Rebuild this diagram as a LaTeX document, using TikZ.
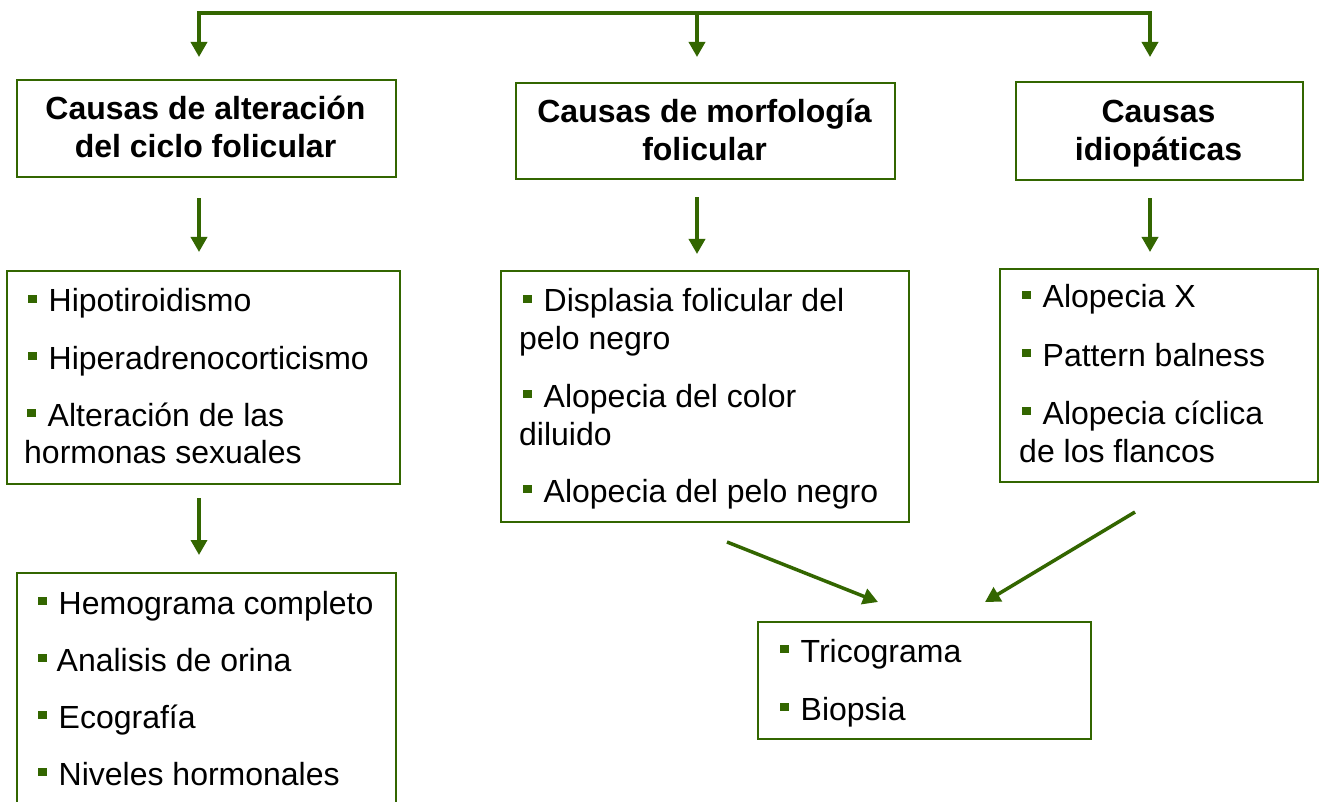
\documentclass[tikz,border=0pt]{standalone}
\usepackage{fontspec}
\setmainfont{Liberation Sans}
\usetikzlibrary{arrows.meta}
\definecolor{dgreen}{HTML}{336600}
\newcommand\fs{\fontsize{32}{38}\selectfont}
\newcommand\bsq{\textcolor{dgreen}{\rule[9pt]{8.5pt}{8.5pt}}\hspace{12pt}}
\tikzset{
  box/.style={draw=dgreen, line width=2.2pt, rectangle, inner sep=0pt, anchor=north west, fill=white},
  ttl/.style={anchor=base, inner sep=0pt, font=\fs\bfseries},
  txt/.style={anchor=base west, inner sep=0pt, font=\fs},
  conn/.style={draw=dgreen, line width=3.5pt},
  arr/.style={conn, -{Triangle[width=16pt,length=15pt]}},
}
\begin{document}
\begin{tikzpicture}[x=1pt,y=-1pt]
\clip (0,0) rectangle (1322,802);
\fill[white] (0,0) rectangle (1322,802);
% boxes
\node[box, minimum width=379pt, minimum height=97pt] (A) at (16,79) {};
\node[box, minimum width=379pt, minimum height=96pt] (B) at (515,82) {};
\node[box, minimum width=287pt, minimum height=98pt] (C) at (1015,81) {};
\node[box, minimum width=393pt, minimum height=213pt] (D) at (6,270) {};
\node[box, minimum width=408pt, minimum height=251pt] (F) at (500,270) {};
\node[box, minimum width=318pt, minimum height=213pt] (G) at (999,268) {};
\node[box, minimum width=379pt, minimum height=245pt] (E) at (16,572) {};
\node[box, minimum width=333pt, minimum height=117pt] (H) at (757,621) {};
% titles
\node[ttl] (a1) at (205.5,120) {Causas de alteración};
\node[ttl] (a2) at (205.5,158) {del ciclo folicular};
\node[ttl] (b1) at (704.5,123) {Causas de morfología};
\node[ttl] (b2) at (704.5,161) {folicular};
\node[ttl] (c1) at (1158.5,123) {Causas};
\node[ttl] (c2) at (1158.5,161) {idiopáticas};
% list D
\node[txt] (d1) at (28,312) {\bsq Hipotiroidismo};
\node[txt] (d2) at (28,369) {\bsq Hiperadrenocorticismo};
\node[txt] (d3) at (27,426) {\bsq Alteración de las};
\node[txt] (d4) at (24,463) {hormonas sexuales};
% list E
\node[txt] (e1) at (38,614) {\bsq Hemograma completo};
\node[txt] (e2) at (38,671) {\textcolor{dgreen}{\rule[9pt]{8.5pt}{8.5pt}}\hspace{10pt}Analisis de orina};
\node[txt] (e3) at (38,728) {\bsq Ecografía};
\node[txt] (e4) at (38,785) {\bsq Niveles hormonales};
% list F
\node[txt] (f1) at (523,312) {\bsq Displasia folicular del};
\node[txt] (f2) at (519,349) {pelo negro};
\node[txt] (f3) at (523,407) {\bsq Alopecia del color};
\node[txt] (f4) at (519,445) {diluido};
\node[txt] (f5) at (523,502) {\bsq Alopecia del pelo negro};
% list G
\node[txt] (g1) at (1022,308) {\bsq Alopecia X};
\node[txt] (g2) at (1022,366) {\bsq Pattern balness};
\node[txt] (g3) at (1022,424) {\bsq Alopecia cíclica};
\node[txt] (g4) at (1019,462) {de los flancos};
% list H
\node[txt] (h1) at (780,662) {\bsq Tricograma};
\node[txt] (h2) at (780,720) {\bsq Biopsia};
% connectors
\coordinate (cL) at (199,13);
\coordinate (cM) at (697,13);
\coordinate (cR) at (1150,13);
\draw[conn, line cap=rect] (cL) -- (cR);
\draw[arr, shorten >=22pt] (cL) -- (A.north -| cL);
\draw[arr, shorten >=25pt] (cM) -- (B.north -| cM);
\draw[arr, shorten >=24pt] (cR) -- (C.north -| cR);
\draw[arr, shorten <=20pt, shorten >=18pt] (A.south -| cL) -- (D.north -| cL);
\draw[arr, shorten <=17pt, shorten >=16pt] (B.south -| cM) -- (F.north -| cM);
\draw[arr, shorten <=17pt, shorten >=16pt] (C.south -| cR) -- (G.north -| cR);
\draw[arr, shorten <=13pt, shorten >=17pt] (D.south -| cL) -- (E.north -| cL);
\coordinate (fs) at (727,542);
\coordinate (ht1) at (878,602);
\coordinate (gs) at (1135,512);
\coordinate (ht2) at (985,602);
\draw[arr] (fs) -- (ht1);
\draw[arr] (gs) -- (ht2);
\end{tikzpicture}
\end{document}
